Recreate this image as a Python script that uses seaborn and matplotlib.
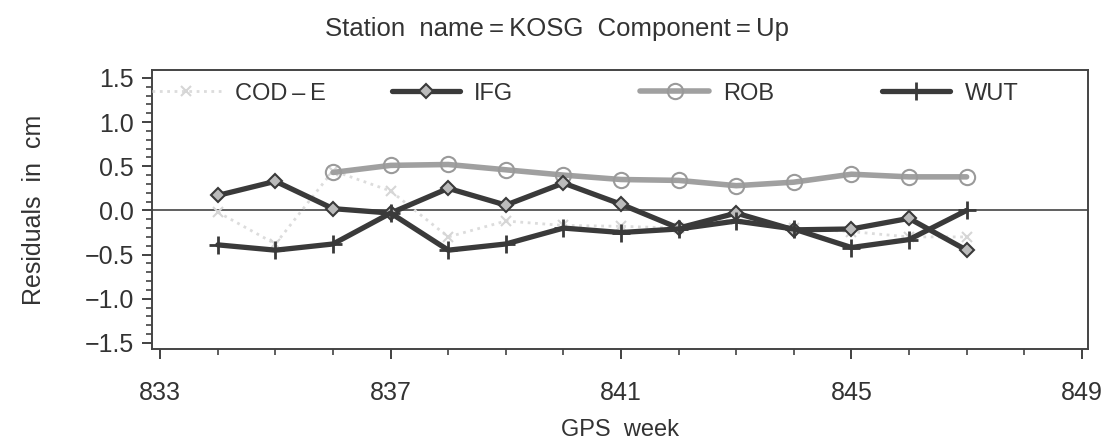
import numpy as np
import pandas as pd
import matplotlib
matplotlib.use("Agg")
import matplotlib.pyplot as plt
import seaborn as sns
from matplotlib.ticker import MultipleLocator

# weeks and residuals (cm) per analysis centre
weeks = [834, 835, 836, 837, 838, 839, 840, 841, 842, 843, 844, 845, 846, 847]
cod_e = [-0.02, -0.38, 0.45, 0.22, -0.30, -0.12, -0.17, -0.18, -0.20, -0.10, -0.20, -0.24, -0.30, -0.30]
ifg = [0.17, 0.33, 0.02, -0.03, 0.25, 0.06, 0.31, 0.07, -0.20, -0.03, -0.22, -0.21, -0.09, -0.45]
rob_weeks = [836, 837, 838, 839, 840, 841, 842, 843, 844, 845, 846, 847]
rob = [0.43, 0.51, 0.52, 0.46, 0.40, 0.35, 0.34, 0.28, 0.32, 0.41, 0.38, 0.38]
wut = [-0.39, -0.45, -0.38, -0.03, -0.45, -0.38, -0.20, -0.25, -0.21, -0.12, -0.21, -0.42, -0.33, 0.0]
names = ["COD\u2009\u2013\u2009E", "IFG", "ROB", "WUT"]

sns.set_style("ticks")
plt.rcParams["font.family"] = ["Liberation Sans", "DejaVu Sans"]
txt = "#333333"

fig = plt.figure(figsize=(11.03, 4.43), dpi=100)
ax = fig.add_axes([0.138, 0.212, 0.848, 0.630])

ax.axhline(0, color="#444444", lw=1.2, zorder=1)

sns.lineplot(x=weeks, y=cod_e, ax=ax, color="#dcdcdc", lw=2, linestyle=":",
             marker="x", markersize=7, mew=1.5, mec="#d6d6d6", label=names[0], zorder=2)
sns.lineplot(x=weeks, y=ifg, ax=ax, color="#3a3a3a", lw=3.8,
             marker="D", markersize=7, mfc="#bbbbbb", mec="#3a3a3a", mew=1.5, label=names[1], zorder=4)
sns.lineplot(x=rob_weeks, y=rob, ax=ax, color="#a0a0a0", lw=4,
             marker="o", markersize=11, mfc="none", mec="#9a9a9a", mew=1.5, label=names[2], zorder=3)
sns.lineplot(x=weeks, y=wut, ax=ax, color="#3a3a3a", lw=3.8,
             marker="+", markersize=13, mew=2, mec="#3a3a3a", label=names[3], zorder=4)

ax.set_xlim(832.86, 849.1)
ax.set_ylim(-1.57, 1.59)
ax.set_xticks([833, 837, 841, 845, 849])
ax.xaxis.set_minor_locator(MultipleLocator(1))
ax.set_yticks([-1.5, -1.0, -0.5, 0.0, 0.5, 1.0, 1.5])
ax.yaxis.set_minor_locator(MultipleLocator(0.1))
ax.tick_params(axis="both", which="major", direction="out", length=7, width=1.3,
               labelsize=18, colors=txt, pad=6)
ax.tick_params(axis="both", which="minor", direction="out", length=4, width=1.1, colors=txt)
ax.tick_params(axis="x", pad=16)
for s in ax.spines.values():
    s.set_visible(True)
    s.set_color("#444444")
    s.set_linewidth(1.4)

ax.set_xlabel("GPS  week", fontsize=17, color=txt, labelpad=10)
ax.set_ylabel("Residuals  in  cm", fontsize=18, color=txt, labelpad=28)
fig.text(0.505, 0.935, "Station  name\u2009=\u2009KOSG  Component\u2009=\u2009Up",
         ha="center", va="center", fontsize=18.5, color=txt)

# legend entries spread along the top, each as its own small legend
h, l = ax.get_legend_handles_labels()
ax.get_legend().remove()
xpos = [0.0, 0.256, 0.522, 0.78]
legs = []
for n, x in zip(names, xpos):
    lg = ax.legend([h[l.index(n)]], [n], loc="center left", bbox_to_anchor=(x, 0.915),
                   frameon=False, fontsize=17, handlelength=2.9, handletextpad=0.6,
                   borderpad=0, borderaxespad=0, labelcolor=txt)
    legs.append(lg)
for lg in legs[:-1]:
    ax.add_artist(lg)

fig.savefig("out.png", dpi=100)
